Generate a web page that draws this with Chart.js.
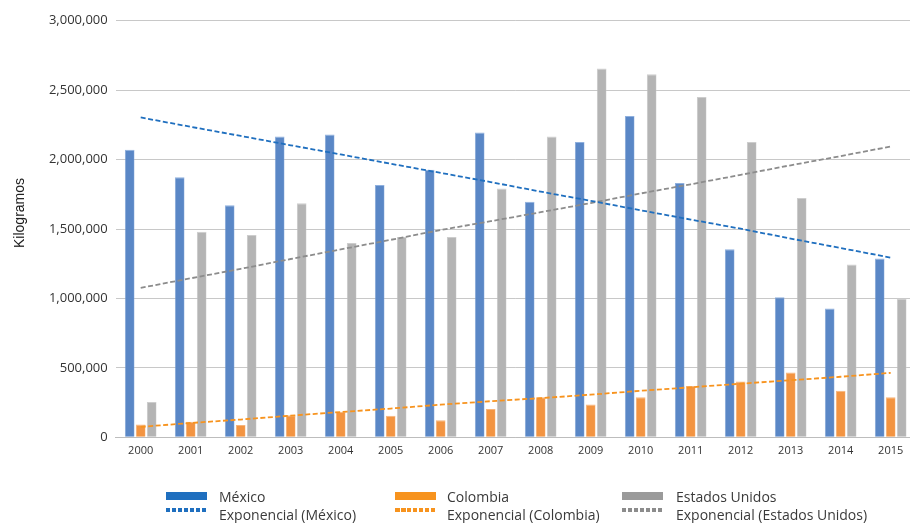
<!DOCTYPE html>
<html>
<head>
<meta charset="utf-8">
<script src="https://cdn.jsdelivr.net/npm/chart.js@4"></script>
<style>
  html, body { margin: 0; padding: 0; overflow: hidden; background: #fff; width: 910px; height: 523px; }
  #wrap { position: relative; width: 930px; height: 523px; }
  canvas { position: absolute; left: 0; top: 0; }
  .ylab { position: absolute; left: 19px; top: 213px; transform: translate(-50%, -50%) rotate(-90deg);
          font-family: "Liberation Sans", Arial, sans-serif; font-size: 14px; color: #1a1a1a; white-space: nowrap; }
  .lg { position: absolute; font-family: "Open Sans", sans-serif; font-size: 14px; color: #3a3a3a; white-space: nowrap; line-height: 16px; }
  .sw { position: absolute; width: 41px; }
</style>
</head>
<body>
<div id="wrap">
  <canvas id="c" width="930" height="523" style="width:930px;height:523px"></canvas>
  <div class="ylab">Kilogramos</div>
  <div id="legend"></div>
</div>
<script>
const years = ["2000","2001","2002","2003","2004","2005","2006","2007","2008","2009","2010","2011","2012","2013","2014","2015"];
const mexico   = [2071000, 1872000, 1671000, 2167000, 2181000, 1817000, 1927000, 2195000, 1696000, 2126000, 2314000, 1831000, 1355000, 1009000, 927000, 1287000];
const colombia = [92000, 112000, 89000, 159000, 184000, 156000, 123000, 204000, 288000, 237000, 288000, 369000, 402000, 466000, 335000, 288000];
const eeuu     = [254000, 1481000, 1457000, 1685000, 1400000, 1443000, 1443000, 1792000, 2167000, 2655000, 2614000, 2450000, 2126000, 1724000, 1244000, 1000000];
const trendMexico   = [2303000, 2236000, 2170000, 2103000, 2037000, 1970000, 1904000, 1838000, 1769000, 1703000, 1635000, 1568000, 1502000, 1431000, 1363000, 1294000];
const trendColombia = [75000, 103000, 128000, 156000, 182000, 207000, 235000, 260000, 282000, 307000, 335000, 360000, 386000, 411000, 436000, 464000];
const trendEEUU     = [1076000, 1145000, 1213000, 1284000, 1353000, 1422000, 1493000, 1556000, 1621000, 1687000, 1756000, 1822000, 1890000, 1959000, 2025000, 2094000];
const yMin = 0, yMax = 3000000, yStep = 500000;
const seriesLabels = ["México", "Colombia", "Estados Unidos"];
const trendLabels = ["Exponencial (México)", "Exponencial (Colombia)", "Exponencial (Estados Unidos)"];

const barColors = ["#5a87c6", "#f39441", "#b4b4b4"];
const barEdges = ["#8fb0de", "#f7b47a", "#cdcdcd"];
const legendColors = ["#1f6fbf", "#f7931e", "#9a9a9a"];
const trendColors = ["#1f6fbf", "#f7931e", "#8c8c8c"];

const barCommon = { categoryPercentage: 0.66, barPercentage: 0.88, borderWidth: { top: 1, left: 0.6, right: 0.6, bottom: 0 }, borderSkipped: 'start', order: 2 };
const lineCommon = { type: 'line', pointRadius: 0, borderWidth: 1.8, borderDash: [5, 2.5], fill: false, tension: 0, order: 1 };

new Chart(document.getElementById('c'), {
  type: 'bar',
  data: {
    labels: years,
    datasets: [
      Object.assign({ label: seriesLabels[0], data: mexico, backgroundColor: barColors[0], borderColor: barEdges[0] }, barCommon),
      Object.assign({ label: seriesLabels[1], data: colombia, backgroundColor: barColors[1], borderColor: barEdges[1] }, barCommon),
      Object.assign({ label: seriesLabels[2], data: eeuu, backgroundColor: barColors[2], borderColor: barEdges[2] }, barCommon),
      Object.assign({ label: trendLabels[0], data: trendMexico, borderColor: trendColors[0] }, lineCommon),
      Object.assign({ label: trendLabels[1], data: trendColombia, borderColor: trendColors[1] }, lineCommon),
      Object.assign({ label: trendLabels[2], data: trendEEUU, borderColor: trendColors[2] }, lineCommon)
    ]
  },
  options: {
    responsive: false,
    animation: false,
    devicePixelRatio: 1,
    layout: { padding: { top: 20.7, left: 0, right: 14.3, bottom: 65.7 } },
    plugins: { legend: { display: false }, tooltip: { enabled: false } },
    scales: {
      x: {
        offset: true,
        grid: { display: false, drawTicks: false },
        border: { display: true, color: '#bdbdbd', width: 1 },
        ticks: { color: '#333', padding: 7, maxRotation: 0, autoSkip: false, font: { family: 'Open Sans', size: 11 } },
        afterFit: (s) => { s.height = 20; }
      },
      y: {
        min: yMin, max: yMax,
        grid: { color: '#c8c8c8', lineWidth: 1, drawTicks: false },
        border: { display: false },
        ticks: { stepSize: yStep, color: '#333', padding: 8, font: { family: 'Open Sans', size: 13 },
                 callback: (v) => Number(v).toLocaleString('en-US') },
        afterFit: (s) => { s.width = 115.7; }
      }
    }
  }
});

// HTML legend
const legend = document.getElementById('legend');
const colX = [166, 395, 622];
const textX = [219, 447, 676];
for (let i = 0; i < 3; i++) {
  const sw = document.createElement('div');
  sw.className = 'sw';
  sw.style.left = colX[i] + 'px'; sw.style.top = '492px'; sw.style.height = '8px';
  sw.style.background = legendColors[i];
  legend.appendChild(sw);
  const t = document.createElement('div');
  t.className = 'lg'; t.textContent = seriesLabels[i];
  t.style.left = textX[i] + 'px'; t.style.top = '489px';
  legend.appendChild(t);
  const sw2 = document.createElement('div');
  sw2.className = 'sw';
  sw2.style.left = colX[i] + 'px'; sw2.style.top = '508px'; sw2.style.height = '4px';
  sw2.style.background = 'repeating-linear-gradient(90deg, ' + trendColors[i] + ' 0px, ' + trendColors[i] + ' 4.5px, transparent 4.5px, transparent 6px)';
  legend.appendChild(sw2);
  const t2 = document.createElement('div');
  t2.className = 'lg'; t2.textContent = trendLabels[i];
  t2.style.left = textX[i] + 'px'; t2.style.top = '507px';
  legend.appendChild(t2);
}
</script>
</body>
</html>
